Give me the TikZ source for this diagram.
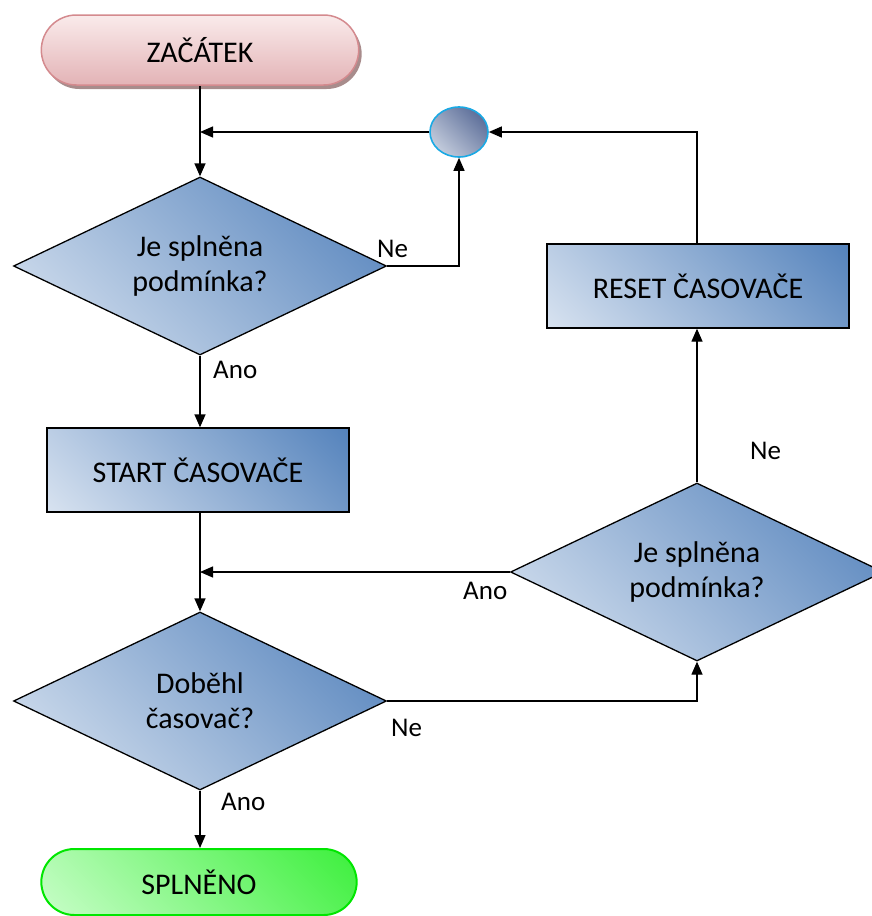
\documentclass[tikz,border=0pt]{standalone}
\usepackage{fontspec}
\setmainfont{Carlito}
\usetikzlibrary{shapes.geometric,shapes.misc,arrows.meta,shadows}

\definecolor{boxdark}{HTML}{4A7BB8}
\definecolor{boxlight}{HTML}{E2EAF4}
\definecolor{circdark}{HTML}{45598A}
\definecolor{circlight}{HTML}{DCE2EC}
\definecolor{circline}{HTML}{1AA9E4}
\definecolor{startdark}{HTML}{E3B3B6}
\definecolor{startlight}{HTML}{FAEBEB}
\definecolor{startline}{HTML}{D48A8E}
\definecolor{startshadow}{HTML}{A88C8C}
\definecolor{enddark}{HTML}{2CEE2C}
\definecolor{endlight}{HTML}{D8FFD8}
\definecolor{endline}{HTML}{00E600}

\begin{document}
\begin{tikzpicture}[x=1pt,y=-1pt,
    every node/.style={font=\fontsize{27}{35}\selectfont},
    bigtext/.style={font=\fontsize{30}{35}\selectfont},
    diagfill/.style n args={3}{path picture={
        \shade[bottom color=#1,top color=#2,shading angle=-45]
            (path picture bounding box.center) circle[radius=#3];}},
    decision/.style={diamond,aspect=2.1,draw,line width=1.3pt,inner sep=0pt,align=center,bigtext,
        minimum width=373pt,minimum height=178pt,diagfill={boxlight}{boxdark}{208pt}},
    process/.style={rectangle,draw,line width=1.3pt,align=center,bigtext,
        minimum width=302pt,minimum height=84pt,diagfill={boxlight}{boxdark}{158pt}},
    arr/.style={line width=1.3pt,-{Triangle[length=13pt,width=11pt]}}]
        \useasboundingbox (0,0) rectangle (872,916);
        \coordinate (pStart) at (200,50);
        \coordinate (pJoin) at (459,132);
        \coordinate (pCond) at (200,266);
        \coordinate (pRun) at (198,470);
        \coordinate (pDone) at (200,701);
        \coordinate (pAgain) at (697,572);
        \coordinate (pReset) at (698,286);
        \coordinate (pEnd) at (199,882);
        \node[rounded rectangle,draw=startline,line width=1.5pt,minimum width=324pt,minimum height=70pt,bigtext,
            top color=startlight,bottom color=startdark,
            drop shadow={shadow xshift=3pt,shadow yshift=-4pt,fill=startshadow,opacity=1}] (start) at (pStart) {ZAČÁTEK};
        \node[ellipse,draw=circline,line width=1.6pt,minimum width=58pt,minimum height=50pt,inner sep=0pt,
            diagfill={circlight}{circdark}{40pt}] (join) at (pJoin) {};
        \node[decision] (cond) at (pCond) {Je splněna\\podmínka?};
        \node[process] (run) at (pRun) {START ČASOVAČE};
        \node[decision] (done) at (pDone) {Doběhl\\časovač?};
        \node[decision] (again) at (pAgain) {Je splněna\\podmínka?};
        \node[process] (reset) at (pReset) {RESET ČASOVAČE};
        \node[rounded rectangle,draw=endline,line width=2pt,minimum width=322pt,minimum height=66pt,bigtext,
            diagfill={endlight}{enddark}{165pt}] (end) at (pEnd) {SPLNĚNO};
        % connectors
        \draw[arr] (start.south) -- (cond.north);
        \draw[arr] (join.west) -- (join.west -| start.south);
        \draw[arr] (cond.east) -| (join.south);
        \draw[arr] (cond.south) -- (run.north -| cond.south);
        \draw[arr] (run.south -| done.north) -- (done.north);
        \draw[arr] (again.west) -- (again.west -| done.north);
        \draw[arr] (done.east) -| (again.south);
        \draw[arr] (again.north) -- (reset.south -| again.north);
        \draw[arr] (reset.north -| again.north) |- (join.east);
        \draw[arr] (done.south) -- (end.north -| done.south);
        % labels
        \node[anchor=west,inner sep=0pt] (neA) at (377,249) {Ne};
        \node[anchor=west,inner sep=0pt] (anoA) at (213,370) {Ano};
        \node[anchor=west,inner sep=0pt] (anoB) at (463,591) {Ano};
        \node[anchor=west,inner sep=0pt] (neB) at (391,728) {Ne};
        \node[anchor=west,inner sep=0pt] (anoC) at (221,802) {Ano};
        \node[anchor=west,inner sep=0pt] (neC) at (750,451) {Ne};
\end{tikzpicture}
\end{document}
